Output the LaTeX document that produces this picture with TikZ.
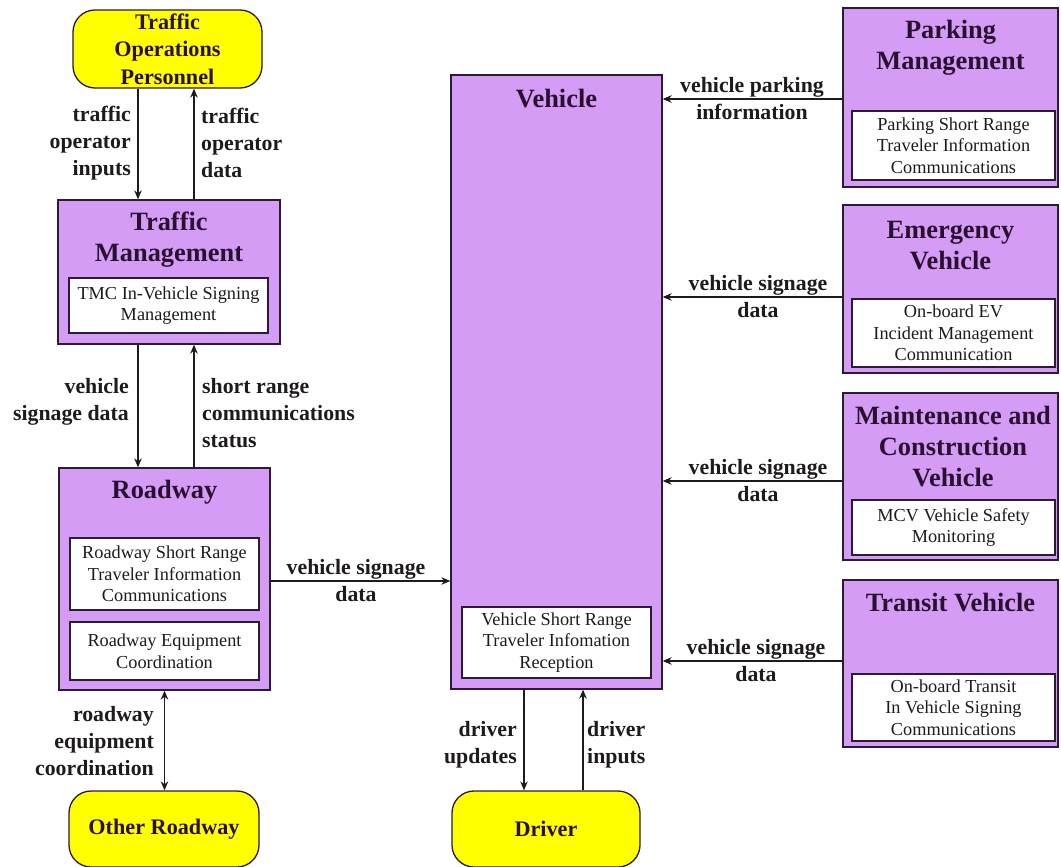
\documentclass[tikz,border=0pt]{standalone}
\usepackage{fontspec}
\setmainfont{Liberation Serif}
\usetikzlibrary{arrows.meta}
\definecolor{purp}{HTML}{D59CF5}
\definecolor{bordc}{HTML}{2C1A36}
\definecolor{yel}{HTML}{FFFF00}
\definecolor{titc}{HTML}{2A1030}
\definecolor{labc}{HTML}{1E1A1E}
\tikzset{
  sysbox/.style={draw=bordc, fill=purp, line width=1.3pt, rectangle, inner sep=0pt},
  innerbox/.style={draw=bordc, fill=white, line width=1.2pt, rectangle, inner sep=0pt, align=center, text=labc, font=\fontsize{18.3}{21.5}\selectfont},
  titletext/.style={font=\bfseries\fontsize{26.4}{31}\selectfont, text=titc, align=center},
  term/.style={draw=bordc, fill=yel, rounded corners=22pt, line width=1.3pt, inner sep=0pt, align=center, text=titc, font=\bfseries\fontsize{22.2}{27.5}\selectfont},
  flowlab/.style={font=\bfseries\fontsize{21.8}{27}\selectfont, text=labc, inner sep=0pt},
  arr/.style={-{Stealth[length=9pt,width=7.5pt]}, line width=1.2pt, draw=labc},
  biarr/.style={{Stealth[length=9pt,width=7.5pt]}-{Stealth[length=9pt,width=7.5pt]}, line width=1.2pt, draw=labc}
}
\begin{document}
\begin{tikzpicture}[x=1pt,y=-1pt]
\useasboundingbox[fill=white] (0,0) rectangle (1061,867);
\begin{scope}
\clip (0,0) rectangle (1061,867);
% terminators
\node[term, minimum width=189pt, minimum height=78pt] (tmo) at (167.5,49) {Traffic\\Operations\\Personnel};
\node[term, minimum width=190pt, minimum height=76pt] (orw) at (164,829) {Other Roadway};
\node[term, minimum width=188pt, minimum height=76pt] (drv) at (546,829) {Driver};
\end{scope}
% Traffic Management
\node[sysbox, minimum width=222pt, minimum height=144pt] (tm) at (169,272) {};
\node[titletext] (tmT) at (169,239.5) {Traffic\\Management};
\node[innerbox, minimum width=199pt, minimum height=55pt] (tmI) at (168.5,305.5) {TMC In-Vehicle Signing\\Management};
% Roadway
\node[sysbox, minimum width=211pt, minimum height=222pt] (rw) at (164.5,579) {};
\node[titletext] (rwT) at (164.5,492) {Roadway};
\node[innerbox, minimum width=189pt, minimum height=72pt] (rwI1) at (164.5,574) {Roadway Short Range\\Traveler Information\\Communications};
\node[innerbox, minimum width=189pt, minimum height=58pt] (rwI2) at (164.5,651) {Roadway Equipment\\Coordination};
% Vehicle
\node[sysbox, minimum width=211pt, minimum height=614pt] (veh) at (556.5,382) {};
\node[titletext] (vehT) at (556.5,99) {Vehicle};
\node[innerbox, minimum width=189pt, minimum height=71pt] (vehI) at (556.5,642.5) {Vehicle Short Range\\Traveler Infomation\\Reception};
% Parking Management
\node[sysbox, minimum width=215pt, minimum height=179pt] (pm) at (950.5,97.5) {};
\node[titletext] (pmT) at (950.5,47.5) {Parking\\Management};
\node[innerbox, minimum width=203pt, minimum height=69pt] (pmI) at (953.5,145.5) {Parking Short Range\\Traveler Information\\Communications};
% Emergency Vehicle
\node[sysbox, minimum width=215pt, minimum height=168pt] (ev) at (950.5,289) {};
\node[titletext] (evT) at (950.5,245.5) {Emergency\\Vehicle};
\node[innerbox, minimum width=203pt, minimum height=68pt] (evI) at (953.5,333) {On-board EV\\Incident Management\\Communication};
% Maintenance and Construction Vehicle
\node[sysbox, minimum width=215pt, minimum height=167pt] (mcv) at (950.5,476.5) {};
\node[titletext] (mcvT) at (953,447) {Maintenance and\\Construction\\Vehicle};
\node[innerbox, minimum width=203pt, minimum height=55pt] (mcvI) at (953.5,527.5) {MCV Vehicle Safety\\Monitoring};
% Transit Vehicle
\node[sysbox, minimum width=215pt, minimum height=167pt] (tv) at (950.5,663.5) {};
\node[titletext] (tvT) at (950.5,603) {Transit Vehicle};
\node[innerbox, minimum width=203pt, minimum height=67pt] (tvI) at (953.5,707.5) {On-board Transit\\In Vehicle Signing\\Communications};
% connectors
\draw[arr] ([xshift=-29.5pt]tmo.south) -- ([xshift=-29.5pt]tmo.south |- tm.north);
\draw[arr] ([xshift=26.5pt]tmo.south |- tm.north) -- ([xshift=26.5pt]tmo.south);
\draw[arr] ([xshift=-31pt]tm.south) -- ([xshift=-31pt]tm.south |- rw.north);
\draw[arr] ([xshift=25pt]tm.south |- rw.north) -- ([xshift=25pt]tm.south);
\draw[biarr] (rw.south) -- (rw.south |- orw.north);
\draw[arr] ([yshift=-2pt]rw.east) -- ([yshift=-2pt]rw.east -| veh.west);
\draw[arr] ([xshift=-32.5pt]veh.south) -- ([xshift=-32.5pt]veh.south |- drv.north);
\draw[arr] ([xshift=26.5pt]veh.south |- drv.north) -- ([xshift=26.5pt]veh.south);
\draw[arr] ([yshift=-1.5pt]pm.west) -- ([yshift=-1.5pt]pm.west -| veh.east);
\draw[arr] ([yshift=-8pt]ev.west) -- ([yshift=-8pt]ev.west -| veh.east);
\draw[arr] ([yshift=-4.5pt]mcv.west) -- ([yshift=-4.5pt]mcv.west -| veh.east);
\draw[arr] ([yshift=2.5pt]tv.west) -- ([yshift=2.5pt]tv.west -| veh.east);
% labels
\node[flowlab, align=right, anchor=east] (l1) at (131,143) {traffic\\operator\\inputs};
\node[flowlab, align=left, anchor=west] (l2) at (201,143) {traffic\\operator\\data};
\node[flowlab, align=right, anchor=east] (l3) at (129,402) {vehicle\\signage data};
\node[flowlab, align=left, anchor=west] (l4) at (202,413) {short range\\communications\\status};
\node[flowlab, align=right, anchor=east] (l5) at (154,741) {roadway\\equipment\\coordination};
\node[flowlab, align=center] (l6) at (356,581) {vehicle signage\\data};
\node[flowlab, align=right, anchor=east] (l7) at (517,745) {driver\\updates};
\node[flowlab, align=left, anchor=west] (l8) at (587,745) {driver\\inputs};
\node[flowlab, align=center] (l9) at (752,99) {vehicle parking\\information};
\node[flowlab, align=center] (l10) at (758,297) {vehicle signage\\data};
\node[flowlab, align=center] (l11) at (758,481) {vehicle signage\\data};
\node[flowlab, align=center] (l12) at (756,661) {vehicle signage\\data};
\end{tikzpicture}
\end{document}
